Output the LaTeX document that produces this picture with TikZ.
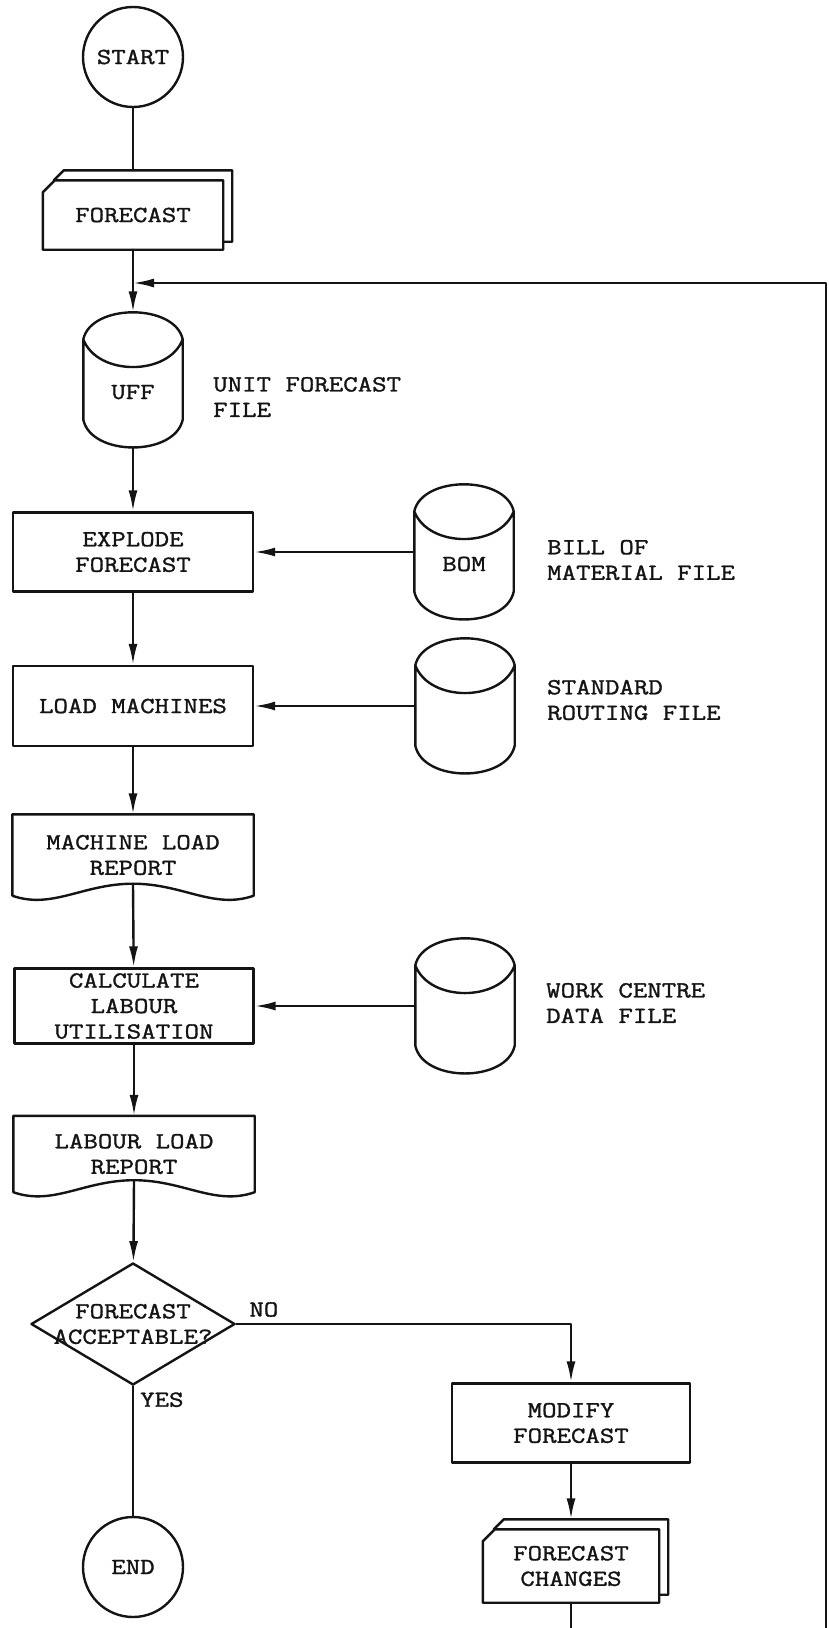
\documentclass[tikz,border=0pt]{standalone}
\usepackage{fontspec}
\setmonofont[FakeStretch=1.22,FakeBold=1.4]{Latin Modern Mono}
\usepackage{tikz}
\usetikzlibrary{arrows.meta,positioning,calc,shapes.geometric}
\definecolor{ink}{HTML}{141414}
\tikzset{
    every picture/.style={line cap=round,line join=round},
    procbox/.style={draw=ink,line width=2.4pt,minimum width=240pt,minimum height=79pt,
      inner sep=2pt,align=center},
    terminal/.style={draw=ink,circle,line width=2.4pt,minimum size=100pt,inner sep=0pt},
    decision/.style={draw=ink,diamond,line width=2.4pt,aspect=1.67,inner sep=-6pt,
      minimum width=204pt,minimum height=122pt,align=center},
    diskfile/.style={minimum width=99pt,minimum height=135pt,inner sep=0pt,
      text height=38pt,text depth=0pt},
    docsheet/.style={minimum width=241pt,inner sep=0pt,align=center},
    cardsheet/.style={inner sep=0pt,align=center},
    outline/.style={draw=ink,line width=2.4pt},
    sidelabel/.style={anchor=west,inner sep=0pt,align=left},
    flowarrow/.style={-{Latex[length=21pt,width=9pt]},draw=ink,line width=2.4pt},
    flowline/.style={draw=ink,line width=2.4pt}
}
\begin{document}
\begin{tikzpicture}[x=1pt,y=-1pt,text=ink,
    font=\ttfamily\fontsize{23}{25.5}\selectfont]
  \useasboundingbox (0,0) rectangle (829,1628);
  \clip (0,0) rectangle (829,1628);
  % main column
  \node[terminal] (start) at (133,57) {START};
  \node[cardsheet,minimum width=180pt,minimum height=69pt] (forecast) at (133,215) {FORECAST};
  \node[diskfile] (uff) at (133,380) {UFF};
  \node[procbox] (explode) at (133,552) {EXPLODE\\FORECAST};
  \node[procbox,minimum height=80pt] (loadmc) at (133,706) {LOAD MACHINES};
  \node[docsheet,minimum height=81pt] (mcreport) at (133,855) {MACHINE LOAD\\REPORT};
  \node[procbox,minimum width=239pt,minimum height=75pt] (labcalc) at (134,1006) {CALCULATE\\LABOUR\\UTILISATION};
  \node[docsheet,minimum height=76pt] (labreport) at (134,1154) {LABOUR LOAD\\REPORT};
  \node[decision] (accept) at (133,1324) {FORECAST\\ACCEPTABLE?};
  \node[terminal] (end) at (133,1567) {END};
  \node[procbox,minimum width=238pt] (modify) at (571,1423) {MODIFY\\FORECAST};
  \node[cardsheet,minimum width=176pt,minimum height=73pt] (changes) at (571,1566) {FORECAST\\CHANGES};
  % files on the right
  \node[diskfile] (bom) at (464,552) {BOM};
  \node[diskfile] (routing) at (465,706) {};
  \node[diskfile] (wcdata) at (465,1006) {};
  \node[sidelabel] (ufflbl) at (213,397) {UNIT FORECAST\\FILE};
  \node[sidelabel] (bomlbl) at (547,560) {BILL OF\\MATERIAL FILE};
  \node[sidelabel] (routinglbl) at (547,700) {STANDARD\\ROUTING FILE};
  \node[sidelabel] (wclbl) at (546,1003) {WORK CENTRE\\DATA FILE};

  % outlines
  \foreach \n in {forecast,changes}{
    \draw[outline] (\n.south west) -- ($(\n.north west)+(0,12)$) -- ($(\n.north west)+(12,0)$)
      -- (\n.north east) -- (\n.south east) -- cycle;
    \draw[outline] ($(\n.north west)+(11,0)$) -- ($(\n.north west)+(21,-10)$)
      -- ($(\n.north east)+(9,-10)$) -- ($(\n.south east)+(9,-8)$) -- ($(\n.south east)+(0,-8)$);
  }
  \foreach \n in {uff,bom,routing,wcdata}{
    \draw[outline] ($(\n.north west)+(0,27)$)
        .. controls ($(\n.north west)+(8,-9)$) and ($(\n.north east)+(-8,-9)$) .. ($(\n.north east)+(0,27)$)
        .. controls ($(\n.north east)+(-14,64)$) and ($(\n.north west)+(14,64)$) .. ($(\n.north west)+(0,27)$)
        -- ($(\n.south west)+(0,-28)$)
        .. controls ($(\n.south west)+(8,9)$) and ($(\n.south east)+(-8,9)$) .. ($(\n.south east)+(0,-28)$)
        -- ($(\n.north east)+(0,27)$);
  }
  \foreach \n in {mcreport,labreport}{
    \draw[outline] (\n.south west) -- (\n.north west) -- (\n.north east) -- (\n.south east)
      .. controls ($(\n.south east)+(-40,14)$) and ($(\n.south)+(50,-12)$) .. ($(\n.south)+(0,-12)$)
      .. controls ($(\n.south)+(-50,-12)$) and ($(\n.south west)+(40,14)$) .. (\n.south west);
  }

  % connectors
  \coordinate (forecasttop) at ($(forecast.north)+(0,-10)$);
  \coordinate (changestop) at ($(changes.north)+(0,-10)$);
  \coordinate (mccrest) at ($(mcreport.south)+(0,-12)$);
  \coordinate (labcrest) at ($(labreport.south)+(0,-12)$);
  \coordinate (join) at (133,283);
  \coordinate (railtop) at (826,283);
  \draw[flowline] (start) -- (forecasttop);
  \draw[flowarrow] (forecast) -- (uff);
  \draw[flowarrow] (uff) -- (explode);
  \draw[flowarrow] (explode) -- (loadmc);
  \draw[flowarrow] (loadmc) -- (mcreport);
  \draw[flowarrow] (mccrest) -- (labcalc);
  \draw[flowarrow] (labcalc) -- (labreport);
  \draw[flowarrow] (labcrest) -- (accept);
  \draw[flowline] (accept) -- (end);
  \draw[flowarrow] (bom) -- (explode);
  \draw[flowarrow] (routing) -- (loadmc);
  \draw[flowarrow] (wcdata) -- (labcalc);
  \draw[flowarrow] (accept.east) node[anchor=south west,inner sep=0pt,xshift=12pt,yshift=6pt] (nolbl) {NO}
    -| (modify);
  \node[anchor=north west,inner sep=0pt,xshift=7pt,yshift=-6pt] (yeslbl) at (accept.south) {YES};
  \draw[flowarrow] (modify) -- (changestop);
  \draw[flowarrow] (changes.south) -- ++(0,60) -| (railtop) -- (join);
\end{tikzpicture}
\end{document}
